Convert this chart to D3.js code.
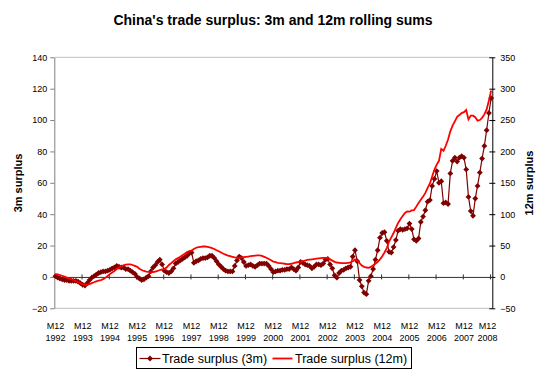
<!DOCTYPE html>
<html>
<head>
<meta charset="utf-8">
<script src="https://cdn.jsdelivr.net/npm/d3@7"></script>
<style>
  body { margin: 0; background: #fff; }
  svg text { font-family: "Liberation Sans", Arial, sans-serif; fill: #000; }
</style>
</head>
<body>
<svg id="chart" width="547" height="374"></svg>
<script>
'use strict';

// monthly, M12 1992 .. M12 2008 (193 points), bn USD
var surplus3m = [
    0.5,
    -0.5, -1, -1.5, -2, -2, -2.5, -2.5, -2.5, -2.5, -3, -4, -5,            // 1993
    -5.5, -4, -2, -0.5, 0.5, 1.5, 2.5, 3, 3.5, 3.5, 4, 4.5,               // 1994
    5.5, 6, 7, 6.5, 6, 6, 5, 5, 4, 3, 2, 0,                               // 1995
    -1, -2, -1.5, -0.5, 0.5, 3.5, 6, 7.5, 9.5, 11, 8, 4,                  // 1996
    3, 2.5, 3.5, 5.5, 8.5, 9.5, 10.5, 11.5, 12.5, 13.5, 15, 15.5,         // 1997
    9, 10, 10.5, 11.5, 12, 12, 12.5, 13.5, 13.5, 12, 10, 8,               // 1998
    6.5, 5, 4, 3.5, 3.5, 3.5, 7, 10.5, 13, 12, 9.5, 7,                    // 1999
    7.5, 8, 7, 6.5, 7.5, 8.5, 8.5, 8.5, 8.5, 7, 5, 3,                     // 2000
    3.5, 4, 4, 4.5, 4.5, 5, 5, 6, 5, 4, 6, 9.5,                           // 2001
    9, 8, 7.5, 7, 5.5, 6.5, 8, 8, 7.5, 8.5, 11, 11.5,                     // 2002
    8, 5.5, 1, -0.5, 2.5, 4, 4.5, 5.5, 6, 6.5, 13, 17,                    // 2003
    10, -2, -6, -10, -11, -2.5, 0.5, 5, 11, 17, 25, 28,                   // 2004
    28.5, 23, 16, 15.5, 19, 23.5, 29.5, 30.5, 30, 30.5, 31, 34,           // 2005
    30.5, 24, 23, 24.5, 35, 38.5, 42.5, 48, 49, 58, 62.5, 67.5,           // 2006
    60, 61, 47, 47.5, 46.5, 66, 74, 76, 73.5, 76, 77, 76,                 // 2007
    68.5, 51, 42, 39, 50, 58, 66.5, 75.5, 83.5, 93.5, 104.5, 114          // 2008
];

var surplus12m = [
    4.5,
    4, 3, 1.5, 0.5, -1, -2.5, -3.5, -5, -6.5, -8, -10, -11.5,             // 1993
    -12.5, -12.5, -11.5, -10, -8.5, -7, -6, -5, -3.5, -1.5, 1.5, 4.5,     // 1994
    7, 9.5, 12.5, 15, 17, 18.5, 19.5, 20, 20, 19, 17.5, 16,               // 1995
    13, 11, 9.5, 8.5, 8, 7.5, 7.5, 8.5, 9.5, 11, 12, 12.5,                // 1996
    15, 19, 22, 25, 28, 30, 32, 34.5, 37, 39.5, 41, 42,                   // 1997
    44.5, 46.5, 47.5, 48, 48.5, 48.5, 48, 47, 46, 44.5, 42.5, 41,         // 1998
    39, 37, 35.5, 34, 33, 32, 31, 30.5, 30.5, 31, 31.5, 32,               // 1999
    32.5, 33, 33.5, 34, 34.5, 34.5, 33.5, 32, 30.5, 28.5, 26.5, 24.5,     // 2000
    23.5, 22.5, 22, 21.5, 21, 20.5, 20.5, 21, 22, 23, 23.5, 24,           // 2001
    25, 26, 27, 27.5, 28, 28.5, 29, 29.5, 30, 30.5, 30.5, 30,             // 2002
    28, 26, 24, 23, 22.5, 22, 22, 22, 22.5, 23, 25, 28,                   // 2003
    26, 22, 18, 16, 15, 14.5, 16, 18.5, 21, 24, 28, 33,                   // 2004
    39, 46, 56, 63, 70, 78, 86, 92, 97, 102, 104.5, 104,                  // 2005
    106, 106.5, 112, 118, 123, 128, 134, 142, 149, 160, 171, 179,         // 2006
    185, 204, 201, 209, 219, 232, 241, 248, 255, 258, 261, 262.5,         // 2007
    266, 251, 257, 257, 254.5, 249, 250, 253.5, 259, 267, 281, 297        // 2008
];

var tickYears = ["1992", "1993", "1994", "1995", "1996", "1997", "1998", "1999", "2000",
                 "2001", "2002", "2003", "2004", "2005", "2006", "2007", "2008"];
var leftTicks = [-20, 0, 20, 40, 60, 80, 100, 120, 140];
var rightTicks = [-50, 0, 50, 100, 150, 200, 250, 300, 350];

var plot = {left: 54.3, right: 492.3, top: 57.3, bottom: 308.3};
var darkRed = "#800000", red = "#ff0000";

var svg = d3.select("#chart");

// month index -> x, categories sit between tick marks
var x = d3.scaleLinear().domain([-0.5, surplus3m.length - 0.5]).range([plot.left, plot.right]);
var yL = d3.scaleLinear().domain([-20, 140]).range([plot.bottom, plot.top]);
var yR = d3.scaleLinear().domain([-50, 350]).range([plot.bottom, plot.top]);

// plot area frame
svg.append("line").attr("x1", plot.left).attr("x2", plot.right).attr("y1", plot.top).attr("y2", plot.top)
   .attr("stroke", "#c0c0c0");
svg.append("line").attr("x1", plot.left).attr("x2", plot.right).attr("y1", plot.bottom).attr("y2", plot.bottom)
   .attr("stroke", "#c0c0c0");

svg.append("text")
   .attr("x", 273).attr("y", 25)
   .attr("text-anchor", "middle")
   .attr("font-size", 14).attr("font-weight", "bold")
   .text("China's trade surplus: 3m and 12m rolling sums");

// left axis
var gL = svg.append("g")
    .attr("transform", "translate(" + plot.left + ",0)")
    .call(d3.axisLeft(yL).tickValues(leftTicks).tickSizeInner(4).tickSizeOuter(0).tickPadding(3));
gL.select(".domain").attr("stroke", "#808080");
gL.selectAll(".tick line").attr("stroke", "#808080");
gL.selectAll(".tick text").attr("font-size", 9).attr("font-family", null);

// right axis
var gR = svg.append("g")
    .attr("transform", "translate(" + plot.right + ",0)")
    .call(d3.axisRight(yR).tickValues(rightTicks).tickSizeInner(3).tickSizeOuter(0).tickPadding(5));
gR.select(".domain").attr("stroke", "#000");
gR.selectAll(".tick line").attr("x1", -3).attr("stroke", "#000");
gR.selectAll(".tick text").attr("font-size", 9).attr("font-family", null);

// category axis on the zero line, ticks every 12 months
var yearIdx = tickYears.map((d, k) => k * 12);
var gX = svg.append("g")
    .attr("transform", "translate(0," + yL(0) + ")")
    .call(d3.axisBottom(x).tickValues(yearIdx.slice(1).map(i => i - 0.5))
             .tickSizeInner(2.5).tickSizeOuter(0).tickFormat(""));
gX.select(".domain").attr("stroke", "#333");
gX.selectAll(".tick line").attr("y1", -2.5).attr("stroke", "#333");

// category labels under the plot
var labels = svg.append("g").selectAll("text")
    .data(yearIdx)
    .enter()
    .append("text")
    .attr("text-anchor", "middle")
    .attr("font-size", 9)
    .attr("x", i => Math.min(x(i), 487.5));
labels.append("tspan").attr("y", 329).attr("x", i => Math.min(x(i), 487.5)).text("M12");
labels.append("tspan").attr("y", 341).attr("x", i => Math.min(x(i), 487.5)).text((i, k) => tickYears[k]);

// axis titles
svg.append("text")
   .attr("transform", "translate(22,183) rotate(-90)")
   .attr("text-anchor", "middle").attr("font-size", 11).attr("font-weight", "bold")
   .text("3m surplus");
svg.append("text")
   .attr("transform", "translate(533,183) rotate(-90)")
   .attr("text-anchor", "middle").attr("font-size", 11).attr("font-weight", "bold")
   .text("12m surplus");

var diamond = "M0,-2.9L2.9,0L0,2.9L-2.9,0Z";

// 3m series, primary axis
var line3 = d3.line().x((d, i) => x(i)).y(d => yL(d));
svg.append("path")
   .datum(surplus3m)
   .attr("d", line3)
   .attr("fill", "none").attr("stroke", darkRed).attr("stroke-width", 1.2);
svg.append("g").selectAll("path")
   .data(surplus3m)
   .enter()
   .append("path")
   .attr("d", diamond)
   .attr("transform", (d, i) => "translate(" + x(i) + "," + yL(d) + ")")
   .attr("fill", darkRed);

// 12m series, secondary axis
var line12 = d3.line().x((d, i) => x(i)).y(d => yR(d));
svg.append("path")
   .datum(surplus12m)
   .attr("d", line12)
   .attr("fill", "none").attr("stroke", red).attr("stroke-width", 1.8);

// legend
var lg = svg.append("g").attr("transform", "translate(136.5,347.5)");
lg.append("rect").attr("width", 275).attr("height", 21).attr("fill", "#fff").attr("stroke", "#000");
lg.append("line").attr("x1", 3).attr("x2", 24).attr("y1", 11).attr("y2", 11)
  .attr("stroke", darkRed).attr("stroke-width", 1.2);
lg.append("path").attr("d", diamond).attr("transform", "translate(13.5,11)").attr("fill", darkRed);
lg.append("text").attr("x", 25.5).attr("y", 15.5).attr("font-size", 12.5).text("Trade surplus (3m)");
lg.append("line").attr("x1", 136).attr("x2", 156).attr("y1", 11).attr("y2", 11)
  .attr("stroke", red).attr("stroke-width", 1.8);
lg.append("text").attr("x", 158.5).attr("y", 15.5).attr("font-size", 12.5).text("Trade surplus (12m)");
</script>
</body>
</html>
